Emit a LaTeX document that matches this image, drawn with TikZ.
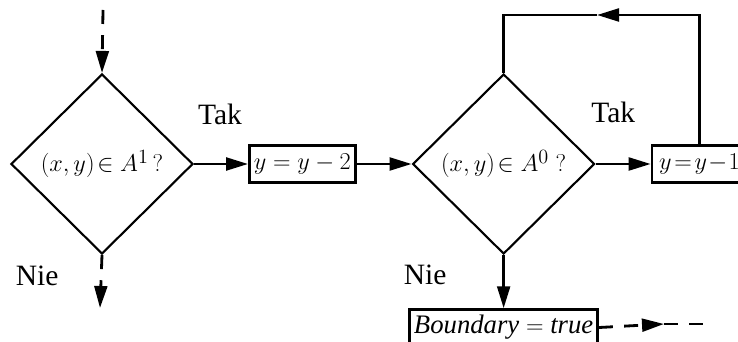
\documentclass[tikz,border=0pt]{standalone}
\usepackage{fontspec}
\setmainfont{Liberation Serif}
\usetikzlibrary{arrows.meta,positioning,shapes.geometric}
\tikzset{
  decision/.style={draw, diamond, line width=1.5pt, minimum width=4.55cm, minimum height=4.5cm, inner sep=0pt, font=\fontsize{19}{23}\selectfont},
  box/.style={draw, line width=1.8pt, minimum height=0.92cm, inner sep=1pt, font=\fontsize{19}{23}\selectfont},
  lbl/.style={font=\fontsize{21}{25}\selectfont},
  line/.style={-{Triangle[length=0.55cm, width=0.32cm]}, line width=2pt},
  plain/.style={line width=2pt},
  dline/.style={line, dash pattern=on 0.35cm off 0.28cm}
}
\begin{document}
\begin{tikzpicture}[node distance=1.35cm]
  \useasboundingbox (0,0) rectangle (18.45,8.55);
  \node[decision] (in1) at (2.55,4.45) {$\Bigl(x,y\Bigr)\!\in A^{1}\,?$};
  \node[box, minimum width=2.65cm, right=of in1] (dec2) {$y=y-2$};
  \node[decision, right=1.375cm of dec2] (in0) {$\Bigl(x,y\Bigr)\!\in A^{0}\;?$};
  \node[box, minimum width=2.375cm, anchor=west] (dec1) at ([xshift=1.375cm]in0.east) {$y\!=\!y\!-\!1$};
  \node[box, minimum width=4.7cm, minimum height=0.9cm, below=1.33cm of in0] (bnd) {$\mathit{Boundary}=\mathit{true}$};

  \node[lbl] (tak1) at (5.5,5.68) {Tak};
  \node[lbl] (tak2) at (15.33,5.73) {Tak};
  \node[lbl] (nie1) at (0.93,1.65) {Nie};
  \node[lbl] (nie2) at (10.63,1.68) {Nie};

  \coordinate (start) at (2.575,8.3);
  \coordinate (out1) at (2.5,0.85);
  \coordinate (ceil) at (0,8.175);
  \coordinate (lmid) at (14.925,8.175);
  \coordinate (bmid) at (16.6,0.45);
  \coordinate (bend) at (17.75,0.45);

  \draw[dline] (start) -- (in1.north);
  \draw[dline] (in1.south) -- (out1);
  \draw[line] (in1.east) -- (dec2.west);
  \draw[line] (dec2.east) -- (in0.west);
  \draw[line] (in0.east) -- (dec1.west);
  \draw[line] (dec1.north) -- (dec1.north |- ceil) -- (lmid);
  \draw[plain] (lmid) -- (in0.north |- ceil) -- (in0.north);
  \draw[line] (in0.south) -- (bnd.north);
  \draw[dline] (bnd.east) -- (bmid);
  \draw[plain, dash pattern=on 0.35cm off 0.28cm] (bmid) -- (bend);
\end{tikzpicture}
\end{document}
